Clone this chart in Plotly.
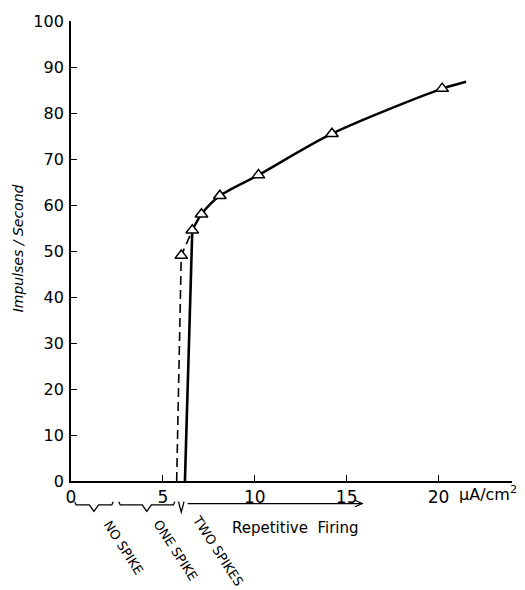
import plotly.graph_objects as go

# Firing rate vs. stimulating current density
current = [6.0, 6.6, 7.1, 8.1, 10.2, 14.2, 20.2]          # µA/cm²
rate = [49, 54.5, 58, 62, 66.5, 75.5, 85.3]               # impulses / s

# Fitted curve through the repetitive-firing points, extended past the last one
curve_x = [6.6, 7.1, 8.1, 10.2, 14.2, 20.2, 21.5]
curve_y = [54.5, 58, 62, 66.5, 75.5, 85.3, 86.8]

# Threshold jumps (solid: rising branch, dashed: alternative branch)
solid_jump_x = [6.2, 6.6]
solid_jump_y = [0, 54.5]
dashed_jump_x = [5.75, 6.0, 6.6]
dashed_jump_y = [0, 49, 54.5]

x_ticks = [0, 5, 10, 15, 20]
y_ticks = list(range(0, 101, 10))

# Response regions along the current axis: (start, end, label)
regions = [
    (0.2, 2.3, "NO SPIKE"),
    (2.6, 5.65, "ONE SPIKE"),
    (5.85, 6.15, "TWO SPIKES"),
]
repetitive_range = (6.35, 15.85)

FONT = "DejaVu Sans"
INK = "black"

fig = go.Figure()

fig.add_trace(go.Scatter(x=dashed_jump_x, y=dashed_jump_y, mode="lines",
                         line=dict(color=INK, width=1.6, dash="9px,5px"),
                         hoverinfo="skip"))
fig.add_trace(go.Scatter(x=solid_jump_x, y=solid_jump_y, mode="lines",
                         line=dict(color=INK, width=2.6), hoverinfo="skip"))
fig.add_trace(go.Scatter(x=curve_x, y=curve_y, mode="lines",
                         line=dict(color=INK, width=2.4, shape="spline", smoothing=0.8),
                         hoverinfo="skip"))
fig.add_trace(go.Scatter(x=current, y=rate, mode="markers",
                         marker=dict(symbol="triangle-up", size=11, color="white",
                                     line=dict(color=INK, width=1.5))))

# Braces under the axis for each response region
y_top, y_bar, y_tip = -0.045, -0.052, -0.066
shapes = []
for x0, x1, _ in regions:
    xm = (x0 + x1) / 2
    if x1 - x0 > 1:
        d = 0.08
        path = (f"M {x0},{y_top} L {x0 + d},{y_bar} L {xm - 0.25},{y_bar} "
                f"L {xm},{y_tip} L {xm + 0.25},{y_bar} L {x1 - d},{y_bar} L {x1},{y_top}")
    else:
        path = f"M {x0},{y_top} L {xm},{y_tip - 0.002} L {x1},{y_top}"
    shapes.append(dict(type="path", xref="x", yref="paper", path=path,
                       line=dict(color=INK, width=1.3)))

# Repetitive firing arrow: shaft plus open head
ya = -0.049
r0, r1 = repetitive_range
shapes.append(dict(type="line", xref="x", yref="paper", x0=r0, x1=r1, y0=ya, y1=ya,
                   line=dict(color=INK, width=1.2)))
shapes.append(dict(type="path", xref="x", yref="paper",
                   path=f"M {r1 - 0.4},{ya + 0.007} L {r1},{ya} L {r1 - 0.4},{ya - 0.007}",
                   line=dict(color=INK, width=1.2)))

annotations = []
# Rotated region labels
label_pos = [(2.85, -0.145), (5.7, -0.151), (8.0, -0.150)]
for (x0, x1, text), (lx, ly) in zip(regions, label_pos):
    annotations.append(dict(x=lx, y=ly, xref="x", yref="paper", text=text,
                            xanchor="center", yanchor="middle",
                            showarrow=False, textangle=57,
                            font=dict(family=FONT, size=13, color=INK)))

annotations.append(dict(x=12.2, y=-0.102, xref="x", yref="paper",
                        xanchor="center", yanchor="middle",
                        text="Repetitive  Firing", showarrow=False,
                        font=dict(family=FONT, size=15, color=INK)))

# Unit label after the last tick
annotations.append(dict(x=21.0, y=-0.028, xref="x", yref="paper",
                        xanchor="left", yanchor="middle",
                        text="µA/cm<sup>2</sup>", showarrow=False,
                        font=dict(family=FONT, size=16, color=INK)))

# Y axis title
annotations.append(dict(x=-0.121, y=0.505, xref="paper", yref="paper",
                        xanchor="center", yanchor="middle",
                        text="<i>Impulses / Second</i>", showarrow=False,
                        textangle=-90, font=dict(family=FONT, size=14, color=INK)))

fig.update_layout(
    width=525, height=590,
    margin=dict(l=71, r=13, t=18, b=109),
    paper_bgcolor="white", plot_bgcolor="white",
    showlegend=False,
    shapes=shapes,
    annotations=annotations,
    font=dict(family=FONT, color=INK),
)

fig.update_xaxes(range=[0, 24], tickvals=x_ticks, ticktext=[str(v) for v in x_ticks],
                 ticks="inside", ticklen=6, tickwidth=1.3, tickcolor=INK,
                 showline=True, linecolor=INK, linewidth=1.8,
                 showgrid=False, zeroline=False,
                 tickfont=dict(family=FONT, size=17, color=INK))
fig.update_yaxes(range=[0, 100], tickvals=y_ticks,
                 ticks="inside", ticklen=6, tickwidth=1.3, tickcolor=INK,
                 showline=True, linecolor=INK, linewidth=1.8,
                 showgrid=False, zeroline=False, ticklabelstandoff=2,
                 tickfont=dict(family=FONT, size=16, color=INK))

fig.write_html("out.html")
